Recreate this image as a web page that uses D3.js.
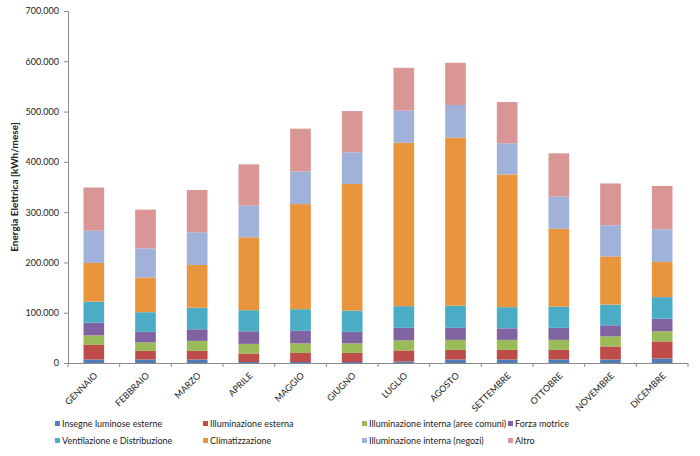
<!DOCTYPE html>
<html>
<head>
<meta charset="utf-8">
<script src="https://cdn.jsdelivr.net/npm/d3@7/dist/d3.min.js"></script>
<style>
  html, body { margin: 0; padding: 0; background: #fff; }
  svg text { font-family: Lato, "Open Sans", sans-serif; fill: #222; }
</style>
</head>
<body>
<svg id="chart" width="700" height="456"></svg>
<script>
const months = ["GENNAIO","FEBBRAIO","MARZO","APRILE","MAGGIO","GIUGNO","LUGLIO","AGOSTO","SETTEMBRE","OTTOBRE","NOVEMBRE","DICEMBRE"];
const seriesNames = ["Insegne luminose esterne","Illuminazione esterna","Illuminazione interna (aree comuni)","Forza motrice","Ventilazione e Distribuzione","Climatizzazione","Illuminazione interna (negozi)","Altro"];
const insegne      = [7000, 7000, 7000, 2000, 2000, 2000, 3000, 7000, 7000, 7000, 7000, 9000];
const illEsterna   = [29000, 17000, 17000, 17000, 18000, 18000, 22000, 19000, 19000, 19000, 26000, 34000];
const illComuni    = [19000, 17000, 20000, 19000, 19000, 19000, 20000, 20000, 20000, 20000, 20000, 20000];
const forzaMotrice = [25000, 21000, 23000, 25000, 25000, 23000, 25000, 24000, 23000, 24000, 22000, 25000];
const ventilazione = [42000, 39000, 43000, 42000, 43000, 42000, 43000, 44000, 42000, 42000, 41000, 43000];
const climatizz    = [77000, 69000, 85000, 145000, 209000, 252000, 325000, 334000, 264000, 155000, 96000, 70000];
const illNegozi    = [64000, 58000, 65000, 63000, 65000, 63000, 64000, 65000, 62000, 64000, 62000, 65000];
const altro        = [86000, 77000, 84000, 82000, 85000, 82000, 85000, 84000, 82000, 86000, 83000, 86000];
const yTicks = [0, 100000, 200000, 300000, 400000, 500000, 600000, 700000];
const yTitle = "Energia Elettrica [kWh/mese]";

const seriesValues = [insegne, illEsterna, illComuni, forzaMotrice, ventilazione, climatizz, illNegozi, altro];
const colors = ["#4E7DB8","#BE4D4A","#9BBB59","#8064A2","#4BACC6","#E8953E","#A0B2DA","#D99694"];

const table = months.map((m, i) => {
  const row = { month: m };
  seriesNames.forEach((s, j) => row[s] = seriesValues[j][i]);
  return row;
});

const svg = d3.select("#chart");
const margin = { left: 68, right: 12, top: 11, bottom: 93 };
const W = 700, H = 456;
const x = d3.scaleBand().domain(months).range([margin.left, W - margin.right]).paddingInner(0.6).paddingOuter(0.3);
const y = d3.scaleLinear().domain([0, 700000]).range([H - margin.bottom, margin.top]);

const stacked = d3.stack().keys(seriesNames)(table);

svg.append("g").selectAll("g").data(stacked).join("g")
  .attr("fill", (d, i) => colors[i])
  .selectAll("rect").data(d => d).join("rect")
  .attr("x", d => x(d.data.month))
  .attr("width", x.bandwidth())
  .attr("y", d => y(d[1]))
  .attr("height", d => y(d[0]) - y(d[1]));

const fmtTick = v => v === 0 ? "0" : (v / 1000).toFixed(0) + ".000";

const axisColor = "#8a8a8a";
const yAxis = svg.append("g").attr("transform", `translate(${margin.left},0)`)
  .call(d3.axisLeft(y).tickValues(yTicks).tickFormat(fmtTick).tickSize(4).tickPadding(5));
yAxis.select(".domain").attr("stroke", axisColor);
yAxis.selectAll(".tick line").attr("stroke", axisColor);
yAxis.selectAll("text").attr("font-size", "9px").attr("font-family", "Lato, sans-serif").attr("fill", "#222");

// x axis with ticks at category boundaries
const x0 = margin.left, x1 = W - margin.right;
const xAxisG = svg.append("g").attr("transform", `translate(0,${H - margin.bottom})`);
xAxisG.append("line").attr("x1", x0).attr("x2", x1).attr("y1", 0.5).attr("y2", 0.5).attr("stroke", axisColor);
const boundaries = d3.range(months.length + 1).map(i => x0 + (x1 - x0) * i / months.length);
xAxisG.selectAll("line.tk").data(boundaries).join("line").attr("class", "tk")
  .attr("x1", d => d).attr("x2", d => d).attr("y1", 0).attr("y2", 4).attr("stroke", axisColor);
xAxisG.selectAll("text").data(months).join("text")
  .attr("transform", d => `translate(${x(d) + x.bandwidth() / 2 + 2},${11}) rotate(-45)`)
  .attr("text-anchor", "end")
  .attr("dy", "0.35em")
  .attr("font-size", "9px")
  .text(d => d);

// y title
svg.append("text")
  .attr("transform", `translate(18,${(margin.top + H - margin.bottom) / 2}) rotate(-90)`)
  .attr("text-anchor", "middle")
  .attr("font-size", "10px")
  .attr("font-weight", "bold")
  .text(yTitle);

// legend
const legCols = [55, 203, 362, 508];
const legRows = [424, 441];
const leg = svg.append("g");
seriesNames.forEach((s, i) => {
  const cx = legCols[i % 4], cy = legRows[Math.floor(i / 4)];
  leg.append("rect").attr("x", cx).attr("y", cy - 3).attr("width", 5).attr("height", 5).attr("fill", colors[i]);
  leg.append("text").attr("x", cx + 7).attr("y", cy).attr("dy", "0.35em").attr("font-size", "9px").text(s);
});
</script>
</body>
</html>
